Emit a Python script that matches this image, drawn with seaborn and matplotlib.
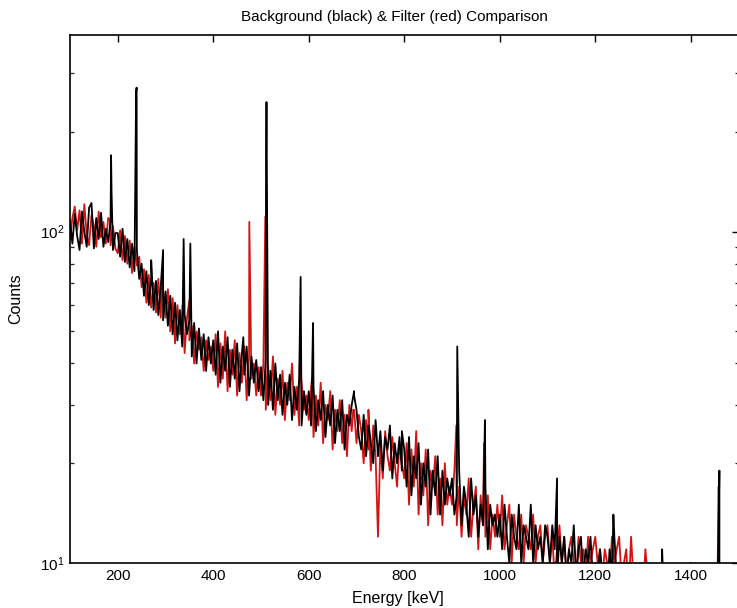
import numpy as np
import pandas as pd
import matplotlib
matplotlib.use("Agg")
import matplotlib.pyplot as plt
import matplotlib.ticker as mticker
import seaborn as sns

# ---- data (counts per 5 keV channel) ----
channel_start = 100
channel_step = 5
channel_stop = 1500

background_counts = [
    108, 92, 113, 97, 88, 115, 100, 90, 118, 122, 89, 110, 95, 114, 90, 102, 93, 108, 88, 99,
    99, 84, 102, 81, 95, 78, 92, 76, 88, 72, 80, 64, 76, 60, 73, 58, 71, 56, 68, 54,
    66, 52, 64, 49, 61, 47, 58, 45, 56, 49, 54, 42, 53, 40, 51, 41, 49, 38, 48, 40,
    47, 37, 50, 35, 45, 38, 48, 34, 44, 36, 46, 33, 43, 37, 45, 32, 42, 35, 41, 33,
    39, 31, 41, 30, 38, 29, 40, 31, 37, 28, 35, 30, 37, 27, 34, 29, 36, 26, 33, 28,
    33, 26, 34, 25, 31, 27, 33, 24, 30, 26, 32, 23, 29, 25, 31, 22, 28, 26, 30, 33,
    29, 24, 22, 28, 21, 26, 23, 20, 27, 21, 25, 19, 24, 22, 26, 18, 23, 20, 24, 19,
    22, 17, 24, 16, 21, 18, 23, 15, 20, 17, 22, 14, 19, 16, 21, 14, 19, 15, 18, 16,
    18, 14, 16, 19, 13, 17, 15, 12, 18, 14, 16, 12, 15, 13, 17, 11, 15, 13, 14, 12,
    14, 11, 15, 12, 10, 14, 12, 11, 15, 10, 13, 12, 11, 15, 10, 13, 11, 12, 10, 13,
    12, 10, 13, 11, 9, 12, 10, 12, 9, 11, 10, 13, 9, 11, 12, 9, 11, 10, 12, 9,
    10, 9, 11, 9, 10, 8, 11, 9, 12, 9, 10, 9, 8, 10, 9, 8, 10, 8, 9, 8,
    9, 8, 10, 8, 7, 9, 8, 7, 8, 7, 9, 8, 7, 8, 7, 8, 7, 8, 7, 8,
    10, 7, 8, 7, 8, 7, 8, 6, 7, 8, 7, 6, 8, 7, 6, 7, 6, 7, 6, 7,
]
filter_counts = [
    95, 110, 119, 101, 116, 92, 121, 98, 91, 112, 104, 90, 115, 96, 107, 92, 110, 91, 104, 89,
    86, 101, 82, 97, 80, 94, 75, 90, 79, 84, 68, 77, 61, 74, 59, 70, 57, 72, 55, 66,
    55, 67, 50, 63, 46, 60, 49, 57, 43, 55, 47, 52, 40, 50, 44, 48, 38, 47, 41, 45,
    38, 49, 34, 46, 36, 50, 33, 44, 37, 47, 32, 43, 35, 45, 31, 42, 36, 40, 32, 39,
    32, 40, 29, 39, 31, 42, 28, 36, 30, 38, 27, 35, 31, 40, 28, 34, 26, 35, 29, 32,
    27, 34, 24, 32, 26, 35, 23, 30, 27, 33, 22, 29, 25, 31, 23, 28, 21, 30, 25, 29,
    23, 28, 25, 20, 27, 22, 19, 26, 21, 12, 23, 18, 25, 21, 19, 24, 20, 17, 23, 20,
    18, 23, 15, 22, 17, 25, 14, 20, 16, 22, 13, 19, 17, 21, 14, 18, 13, 20, 15, 17,
    15, 19, 13, 17, 12, 16, 14, 18, 12, 15, 17, 11, 16, 13, 12, 16, 11, 14, 12, 15,
    12, 16, 11, 13, 15, 10, 14, 12, 11, 14, 10, 13, 12, 11, 14, 10, 12, 13, 10, 12,
    13, 10, 12, 9, 11, 13, 10, 12, 9, 11, 12, 10, 9, 12, 10, 11, 9, 12, 10, 11,
    12, 10, 11, 9, 11, 10, 9, 12, 10, 11, 12, 9, 10, 11, 8, 12, 9, 8, 9, 8,
    8, 11, 9, 8, 7, 8, 7, 9, 8, 7, 8, 7, 9, 7, 8, 7, 8, 7, 8, 7,
    8, 7, 8, 6, 7, 8, 6, 7, 6, 7, 8, 6, 7, 6, 7, 6, 7, 6, 7, 6,
]

# gamma lines (energy in keV, peak-channel counts)
background_peak_energy = [186, 187, 238.5, 239.5, 270, 295, 338, 352, 463, 510.5, 511.5,
                          583, 609, 695, 727, 795, 911, 969, 1120, 1238, 1340, 1460]
background_peak_counts = [170, 132, 265, 272, 82, 88, 95, 92, 48, 154, 246,
                          73, 53, 32, 25, 25, 45, 27, 18, 14, 11, 19]
filter_peak_energy = [184, 293, 336, 350, 475.5, 509, 581, 607, 693, 725, 909, 967, 1458]
filter_peak_counts = [108, 72, 60, 62, 107, 111, 40, 36, 29, 29, 26, 23, 17]

x_ticks = [200, 400, 600, 800, 1000, 1200, 1400]

# ---- build tables ----
energy = np.arange(channel_start, channel_stop, channel_step)
bg = pd.DataFrame({"Energy": np.concatenate([energy, background_peak_energy]),
                   "Counts": np.concatenate([background_counts, background_peak_counts])})
bg = bg.sort_values("Energy")
ft = pd.DataFrame({"Energy": np.concatenate([energy, filter_peak_energy]),
                   "Counts": np.concatenate([filter_counts, filter_peak_counts])})
ft = ft.sort_values("Energy")

sns.set_theme(style="white")
plt.rcParams["font.family"] = ["Liberation Sans", "DejaVu Sans"]
plt.rcParams["mathtext.default"] = "regular"

fig = plt.figure(figsize=(7.37, 6.08), dpi=100)
W, H = 737, 608
left, right, top, bottom = 70, 738.5, 35, 563
ax = fig.add_axes([left / W, 1 - bottom / H, (right - left) / W, (bottom - top) / H])

sns.lineplot(data=ft, x="Energy", y="Counts", ax=ax, color="#d41414",
             linewidth=1.3, estimator=None, sort=False)
sns.lineplot(data=bg, x="Energy", y="Counts", ax=ax, color="black",
             linewidth=1.3, estimator=None, sort=False)

ax.set_yscale("log")
ax.set_xlim(100, 1500)
ax.set_ylim(10, 392)
ax.set_xticks(x_ticks)
ax.set_xticklabels([str(t) for t in x_ticks])
ax.yaxis.set_major_locator(mticker.LogLocator(base=10))
ax.yaxis.set_minor_locator(mticker.LogLocator(base=10, subs=np.arange(2, 10)))
ax.yaxis.set_minor_formatter(mticker.NullFormatter())

for s in ax.spines.values():
    s.set_color("black")
    s.set_linewidth(1.2)
ax.tick_params(axis="both", which="major", direction="in", length=5, width=1.0,
               top=True, right=True, labelsize=11, colors="black", pad=4)
ax.tick_params(axis="y", which="minor", direction="in", length=3, width=0.9,
               left=True, right=True)
ax.tick_params(axis="x", which="minor", bottom=False, top=False)

ax.set_xlabel("Energy [keV]", fontsize=11.5, color="black")
ax.set_ylabel("Counts", fontsize=11.5, color="black")
ax.xaxis.set_label_coords((398 - left) / (right - left), (bottom - 598) / (bottom - top))
ax.xaxis.label.set_va("center")
ax.yaxis.set_label_coords((16 - left) / (right - left), 0.5)
ax.yaxis.label.set_va("center")

fig.text(394 / W, 1 - 17 / H, "Background (black) & Filter (red) Comparison",
         ha="center", va="center", fontsize=11, color="black")

fig.savefig("out.png", dpi=100, facecolor="white")
